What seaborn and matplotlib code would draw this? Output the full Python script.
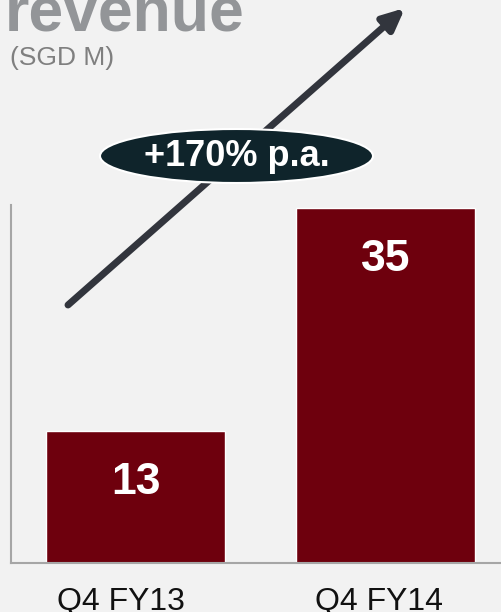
import matplotlib
matplotlib.use("Agg")
import matplotlib.pyplot as plt
import matplotlib.transforms as mtransforms
import seaborn as sns
import pandas as pd
from matplotlib.patches import Ellipse, FancyArrowPatch

categories = ["Q4 FY13", "Q4 FY14"]
values = [13, 35]
title = "revenue"
unit = "(SGD M)"
growth_label = "+170% p.a."

BG = "#F2F2F2"
BAR = "#6E000D"

sns.set_theme(style="white")
plt.rcParams["font.family"] = ["Liberation Sans", "DejaVu Sans"]

fig = plt.figure(figsize=(5.02, 6.12), dpi=100, facecolor=BG)
ax = fig.add_axes([11 / 502, 49 / 612, 491 / 502, 358 / 612])
ax.set_facecolor(BG)

df = pd.DataFrame({"period": categories, "revenue": values})
sns.barplot(data=df, x="period", y="revenue", color=BAR, saturation=1,
            width=0.716, ax=ax)

ax.set_xlim(-0.5, 1.466)
ax.set_ylim(0, 35.3)
ax.set_xlabel("")
ax.set_ylabel("")
ax.set_yticks([])
ax.tick_params(axis="x", length=0, pad=17, labelsize=23, labelcolor="#111111")
for lbl, dx in zip(ax.get_xticklabels(), [-15, -7]):
    lbl.set_transform(lbl.get_transform() +
                      mtransforms.ScaledTranslation(dx / 100, 0, fig.dpi_scale_trans))
for s in ["top", "right"]:
    ax.spines[s].set_visible(False)
for s in ["left", "bottom"]:
    ax.spines[s].set_color("#A6A6A6")
    ax.spines[s].set_linewidth(1.5)

for p, v in zip(ax.patches, values):
    ax.annotate(f"{v}", (p.get_x() + p.get_width() / 2, p.get_height()),
                xytext=(0, -37), textcoords="offset points",
                ha="center", va="center", color="white",
                fontsize=32, fontweight="bold")

fig.text(5 / 502, 1 - 31 / 612, title, fontsize=45, fontweight="bold",
         color="#939598", ha="left", va="baseline")
fig.text(10 / 502, 1 - 65 / 612, unit, fontsize=19, color="#7F7F7F",
         ha="left", va="baseline")

arrow = FancyArrowPatch((68 / 502, 1 - 305 / 612), (405 / 502, 1 - 8 / 612),
                        transform=fig.transFigure,
                        arrowstyle="-|>,head_length=13,head_width=6",
                        mutation_scale=1, shrinkA=0, shrinkB=0,
                        lw=5, color="#32353D", zorder=5)
fig.add_artist(arrow)

ell = Ellipse((236.5 / 502, 1 - 156 / 612), 273 / 502, 54 / 612,
              transform=fig.transFigure, facecolor="#0F242B",
              edgecolor="white", lw=1.5, zorder=6)
fig.add_artist(ell)
fig.text(236.5 / 502, 1 - 156 / 612, growth_label, fontsize=26,
         fontweight="bold", color="white", ha="center", va="center",
         zorder=7)

fig.savefig("out.png", dpi=100, facecolor=BG)
